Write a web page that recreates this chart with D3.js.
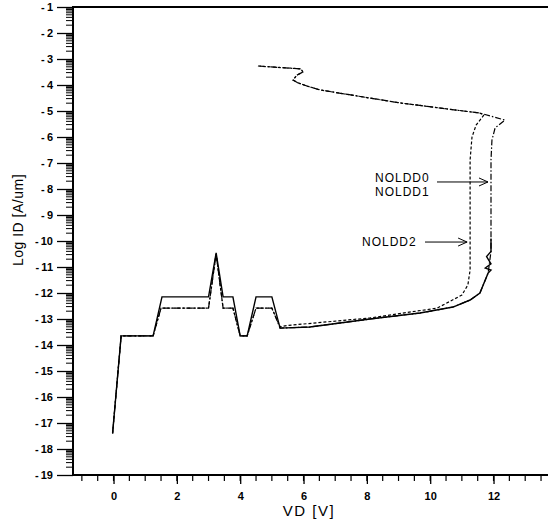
<!DOCTYPE html>
<html>
<head>
<meta charset="utf-8">
<script src="https://cdn.jsdelivr.net/npm/d3@7"></script>
<style>
  body { margin: 0; background: #fff; }
  svg { display: block; font-family: "Liberation Sans", Arial, sans-serif; }
</style>
</head>
<body>
<div id="chart"></div>
<script>
// data (VD in volts, log10 ID in A/um)
var noldd0VD = [-0.03, 0.24, 1.25, 1.53, 3.0, 3.24, 3.46, 3.77, 4.0, 4.22, 4.5, 5.0, 5.26, 6.2, 8.1, 9.68, 10.72, 11.26, 11.57, 11.83, 11.92, 11.74, 11.92, 11.78, 11.92, 11.92];
var noldd0ID = [-17.4, -13.65, -13.65, -12.15, -12.15, -10.46, -12.15, -12.15, -13.65, -13.65, -12.15, -12.15, -13.35, -13.31, -13.0, -12.77, -12.54, -12.27, -12.0, -11.23, -11.12, -11.04, -10.88, -10.6, -10.4, -9.9];

var noldd1VD = [-0.03, 0.24, 1.25, 1.5, 3.0, 3.24, 3.46, 3.77, 4.0, 4.22, 4.5, 5.0, 5.26, 6.2, 8.1, 9.68, 10.72, 11.26, 11.57, 11.83, 11.92, 11.92, 11.92, 11.95, 12.05, 12.36, 11.57, 9.05, 6.52, 6.11, 5.83, 5.67, 5.79, 5.98, 5.92, 4.56];
var noldd1ID = [-17.4, -13.65, -13.65, -12.58, -12.58, -10.5, -12.58, -12.58, -13.65, -13.65, -12.58, -12.58, -13.35, -13.31, -13.0, -12.77, -12.54, -12.27, -12.0, -11.23, -10.4, -8.42, -6.88, -6.12, -5.65, -5.35, -5.08, -4.69, -4.19, -4.04, -3.92, -3.81, -3.62, -3.5, -3.38, -3.27];

var noldd2VD = [-0.03, 0.24, 1.25, 1.5, 3.0, 3.24, 3.46, 3.77, 4.0, 4.22, 4.5, 5.0, 5.26, 5.48, 8.1, 10.22, 11.0, 11.19, 11.26, 11.26, 11.26, 11.32, 11.45, 11.7, 11.57, 9.05, 6.52, 6.11, 5.83, 5.67, 5.79, 5.98, 5.92, 4.56];
var noldd2ID = [-17.4, -13.65, -13.65, -12.58, -12.58, -10.5, -12.58, -12.58, -13.65, -13.65, -12.58, -12.58, -13.3, -13.25, -12.96, -12.58, -12.08, -11.69, -11.12, -8.42, -6.88, -6.0, -5.54, -5.15, -5.08, -4.69, -4.19, -4.04, -3.92, -3.81, -3.62, -3.5, -3.38, -3.27];

var yTicks = [-1, -2, -3, -4, -5, -6, -7, -8, -9, -10, -11, -12, -13, -14, -15, -16, -17, -18, -19];
var xTicks = [0, 2, 4, 6, 8, 10, 12];
var labels = ['NOLDD0', 'NOLDD1', 'NOLDD2'];

var W = 548, H = 523;
var svg = d3.select('#chart').append('svg')
    .attr('width', W)
    .attr('height', H);

var x = d3.scaleLinear().domain([-1.28, 13.72]).range([73, 548]);
var y = d3.scaleLinear().domain([-19, -1]).range([475, 7]);

// minor log ticks on y (inside each decade)
var minorY = [];
yTicks.forEach(function(t){
    if (t == -19) return;
    for (var k = 2; k <= 9; k++) {
        minorY.push(t - 1 + Math.log10(k));
    }
});
svg.append('g').selectAll('line')
    .data(minorY)
    .enter().append('line')
    .attr('x1', 66).attr('x2', 73)
    .attr('y1', d => y(d)).attr('y2', d => y(d))
    .attr('stroke', '#000').attr('stroke-width', 1);

// y axis
var yaxis = d3.axisLeft(y).tickValues(yTicks).tickSize(16).tickPadding(4)
    .tickFormat(d => '-' + '\u2009' + Math.abs(d));
var gy = svg.append('g').attr('transform', 'translate(73,0)').call(yaxis);
gy.select('.domain').remove();
gy.selectAll('.tick line').attr('stroke-width', 1.3);
gy.selectAll('text').attr('font-size', 11).attr('font-weight', 'bold')
    .attr('font-family', '"Liberation Sans", Arial, sans-serif');

// x axis minor ticks every 0.5
var minorX = d3.range(-1, 13.75, 0.5);
svg.append('g').selectAll('line')
    .data(minorX)
    .enter().append('line')
    .attr('x1', d => x(d)).attr('x2', d => x(d))
    .attr('y1', 475).attr('y2', 481)
    .attr('stroke', '#000').attr('stroke-width', 1.2);

var xaxis = d3.axisBottom(x).tickValues(xTicks).tickSize(9).tickPadding(8)
    .tickFormat(d3.format('d'));
var gx = svg.append('g').attr('transform', 'translate(0,475)').call(xaxis);
gx.select('.domain').remove();
gx.selectAll('.tick line').attr('stroke-width', 1.3);
gx.selectAll('text').attr('font-size', 11).attr('font-weight', 'bold')
    .attr('font-family', '"Liberation Sans", Arial, sans-serif');

// frame: left, bottom, top
svg.append('line').attr('x1', 73).attr('x2', 73).attr('y1', 6).attr('y2', 476)
    .attr('stroke', '#000').attr('stroke-width', 2);
svg.append('line').attr('x1', 72).attr('x2', 548).attr('y1', 475).attr('y2', 475)
    .attr('stroke', '#000').attr('stroke-width', 1.8);
svg.append('line').attr('x1', 72).attr('x2', 548).attr('y1', 7).attr('y2', 7)
    .attr('stroke', '#000').attr('stroke-width', 1.8);

// axis titles
svg.append('text').attr('x', 309).attr('y', 516)
    .attr('text-anchor', 'middle').attr('font-size', 15)
    .attr('letter-spacing', 1.5).text('VD [V]');
svg.append('text')
    .attr('transform', 'translate(23,220) rotate(-90)')
    .attr('text-anchor', 'middle').attr('font-size', 14)
    .attr('letter-spacing', 0.5).text('Log ID [A/um]');

// curves
var line = d3.line()
    .x(d => x(d[0]))
    .y(d => y(d[1]));

var series = [
    {vd: noldd2VD, id: noldd2ID, dash: '3,2', w: 1.2},
    {vd: noldd1VD, id: noldd1ID, dash: '6,2,1.5,2', w: 1.2},
    {vd: noldd0VD, id: noldd0ID, dash: null, w: 1.4}
];
series.forEach(function(s){
    var pts = s.vd.map((v, i) => [v, s.id[i]]);
    svg.append('path')
        .datum(pts)
        .attr('d', line)
        .attr('fill', 'none')
        .attr('stroke', '#000')
        .attr('stroke-width', s.w)
        .attr('stroke-dasharray', s.dash);
});

// annotations
function arrow(x1, x2, yy){
    svg.append('line').attr('x1', x1).attr('x2', x2).attr('y1', yy).attr('y2', yy)
        .attr('stroke', '#000').attr('stroke-width', 1);
    svg.append('path')
        .attr('d', 'M' + (x2 - 9) + ',' + (yy - 4) + 'L' + x2 + ',' + yy + 'L' + (x2 - 9) + ',' + (yy + 4))
        .attr('fill', 'none').attr('stroke', '#000').attr('stroke-width', 1);
}
svg.append('text').attr('x', 375).attr('y', y(-7.58) + 4).attr('font-size', 12)
    .attr('letter-spacing', 1).text(labels[0]);
svg.append('text').attr('x', 375).attr('y', y(-8.06) + 5).attr('font-size', 12)
    .attr('letter-spacing', 1).text(labels[1]);
arrow(437, x(11.92) - 3, y(-7.73));
svg.append('text').attr('x', 362).attr('y', y(-10.04) + 4).attr('font-size', 12)
    .attr('letter-spacing', 1).text(labels[2]);
arrow(425, x(11.26) - 3, y(-10.04));
</script>
</body>
</html>
